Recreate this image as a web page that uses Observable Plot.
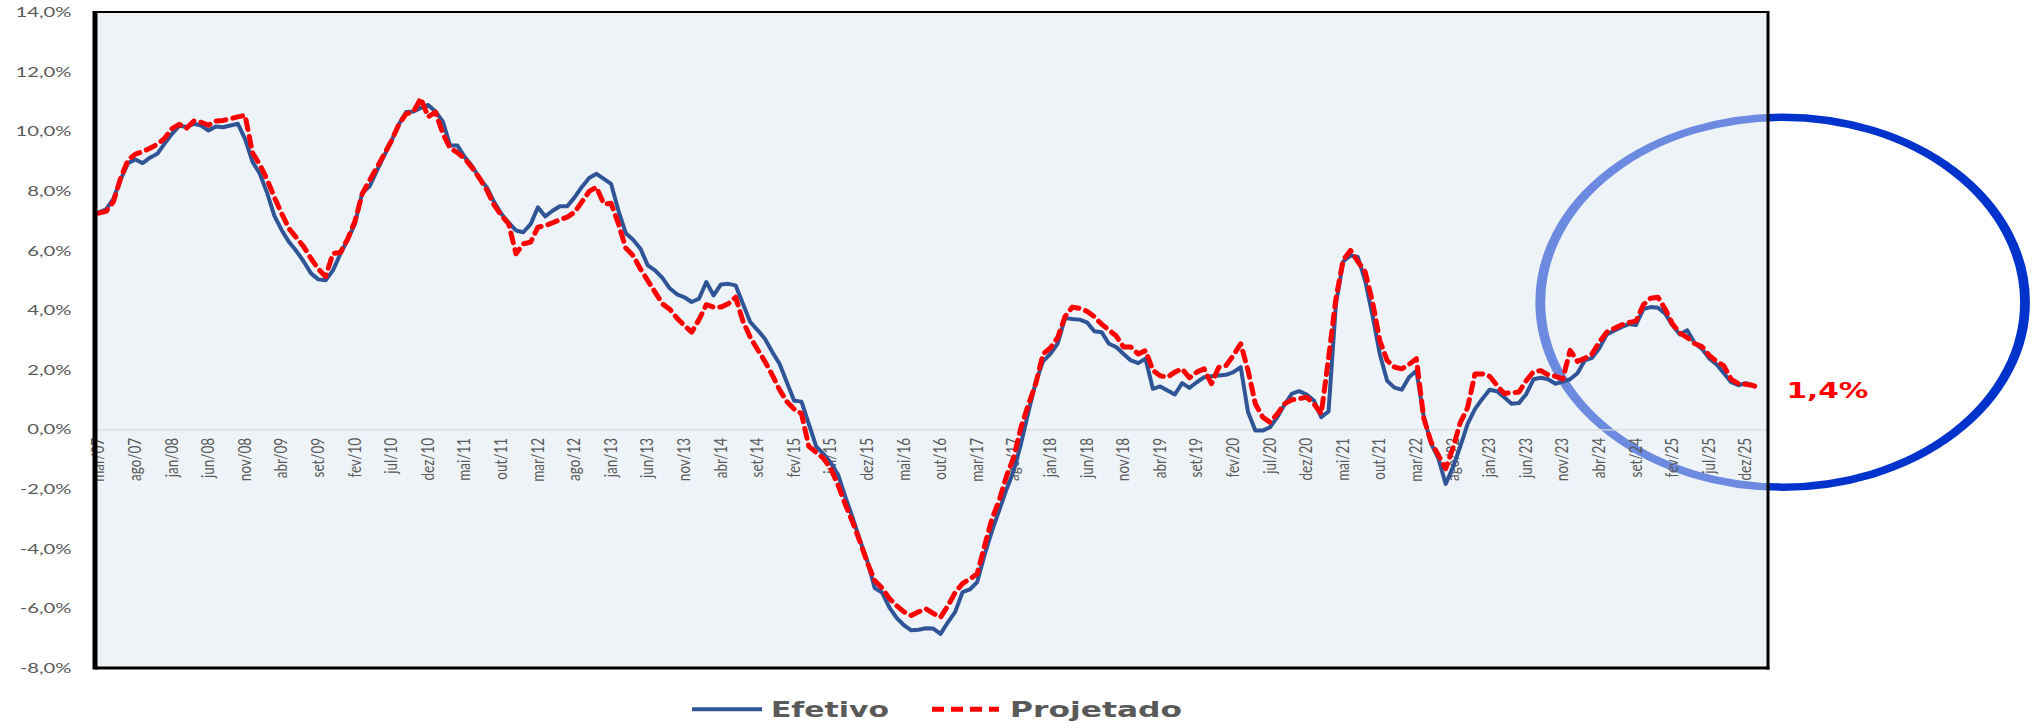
<!DOCTYPE html>
<html>
<head>
<meta charset="utf-8">
<script src="https://cdn.jsdelivr.net/npm/d3@7"></script>
<script src="https://cdn.jsdelivr.net/npm/@observablehq/plot@0.6"></script>
<style>
  html, body { margin: 0; padding: 0; background: #ffffff; }
  #chart svg { display: block; }
  #legend { display: block; }
</style>
</head>
<body>
<div id="chart"></div>
<svg id="legend" width="2039" height="32"></svg>
<script>
// ---------- DATA (monthly, mar/07 onward) ----------
const seriesNames = ["Efetivo", "Projetado"];

const efetivo = [
  7.30, 7.40, 7.75, 8.40, 8.95, 9.07, 8.95, 9.13, 9.26, 9.60,
  9.93, 10.20, 10.16, 10.27, 10.21, 10.04, 10.18, 10.15, 10.21, 10.27,
  9.75, 9.00, 8.60, 7.95, 7.18, 6.70, 6.30, 6.00, 5.65, 5.25,
  5.05, 5.02, 5.35, 5.90, 6.38, 6.91, 7.95, 8.17, 8.70, 9.20,
  9.70, 10.25, 10.66, 10.68, 10.80, 10.90, 10.68, 10.35, 9.54, 9.54,
  9.15, 8.85, 8.45, 8.14, 7.65, 7.25, 6.95, 6.69, 6.63, 6.90,
  7.47, 7.16, 7.35, 7.50, 7.50, 7.80, 8.15, 8.45, 8.59, 8.42,
  8.25, 7.35, 6.60, 6.38, 6.08, 5.52, 5.35, 5.10, 4.75, 4.55,
  4.45, 4.29, 4.40, 4.96, 4.51, 4.88, 4.90, 4.85, 4.23, 3.62,
  3.35, 3.06, 2.62, 2.22, 1.60, 0.98, 0.95, 0.20, -0.55, -0.80,
  -1.10, -1.50, -2.25, -2.95, -3.70, -4.40, -5.30, -5.45, -5.95, -6.30,
  -6.55, -6.72, -6.70, -6.65, -6.66, -6.84, -6.45, -6.10, -5.44, -5.35,
  -5.10, -4.20, -3.40, -2.70, -2.00, -1.36, -0.45, 0.60, 1.60, 2.30,
  2.55, 2.90, 3.75, 3.72, 3.70, 3.61, 3.31, 3.28, 2.89, 2.78,
  2.55, 2.33, 2.24, 2.39, 1.38, 1.46, 1.32, 1.19, 1.57, 1.41,
  1.60, 1.77, 1.80, 1.83, 1.85, 1.94, 2.11, 0.60, -0.02, -0.02,
  0.09, 0.43, 0.85, 1.22, 1.30, 1.19, 0.99, 0.43, 0.62, 4.20,
  5.65, 5.85, 5.80, 5.01, 3.85, 2.55, 1.65, 1.42, 1.35, 1.77,
  1.99, 0.45, -0.45, -0.95, -1.81, -1.25, -0.55, 0.20, 0.70, 1.04,
  1.35, 1.30, 1.10, 0.88, 0.90, 1.20, 1.70, 1.75, 1.70, 1.55,
  1.62, 1.70, 1.90, 2.33, 2.42, 2.75, 3.20, 3.33, 3.45, 3.55,
  3.52, 4.05, 4.12, 4.10, 3.90, 3.50, 3.20, 3.34, 2.92, 2.72,
  2.40, 2.20, 1.90, 1.60, 1.50, 1.57, 1.49
];

const projetado = [
  7.27, 7.33, 7.65, 8.45, 9.05, 9.25, 9.33, 9.45, 9.58, 9.78,
  10.10, 10.25, 10.12, 10.36, 10.32, 10.22, 10.36, 10.38, 10.44, 10.50,
  10.55, 9.30, 8.90, 8.40, 7.80, 7.25, 6.75, 6.45, 6.15, 5.75,
  5.40, 5.15, 5.92, 5.95, 6.40, 7.00, 7.92, 8.37, 8.80, 9.25,
  9.70, 10.25, 10.60, 10.68, 11.12, 10.50, 10.66, 9.95, 9.45, 9.30,
  9.10, 8.80, 8.45, 8.05, 7.55, 7.20, 6.91, 5.91, 6.24, 6.30,
  6.80, 6.85, 6.95, 7.05, 7.14, 7.30, 7.65, 8.00, 8.14, 7.58,
  7.60, 6.91, 6.10, 5.85, 5.40, 5.01, 4.62, 4.23, 4.05, 3.75,
  3.50, 3.28, 3.70, 4.20, 4.12, 4.12, 4.23, 4.45, 3.65, 3.11,
  2.70, 2.30, 1.85, 1.35, 0.95, 0.70, 0.55, -0.55, -0.75, -0.95,
  -1.30, -1.85, -2.50, -3.10, -3.75, -4.45, -5.05, -5.30, -5.65, -5.89,
  -6.10, -6.22, -6.10, -6.00, -6.15, -6.28, -5.90, -5.45, -5.15, -5.00,
  -4.82, -3.90, -3.00, -2.37, -1.55, -0.91, 0.10, 0.85, 1.55, 2.55,
  2.75, 3.10, 3.80, 4.12, 4.08, 3.98, 3.80, 3.55, 3.35, 3.15,
  2.78, 2.78, 2.55, 2.66, 2.00, 1.82, 1.77, 1.94, 2.05, 1.75,
  1.94, 2.05, 1.55, 2.10, 2.16, 2.50, 2.89, 2.00, 0.88, 0.43,
  0.26, 0.54, 0.88, 1.01, 1.05, 1.10, 0.88, 0.54, 2.40, 4.40,
  5.70, 6.02, 5.65, 5.30, 4.30, 3.00, 2.33, 2.11, 2.05, 2.20,
  2.39, 0.40, -0.40, -0.85, -1.30, -0.60, 0.25, 0.75, 1.88, 1.88,
  1.80, 1.50, 1.22, 1.25, 1.27, 1.65, 1.95, 1.99, 1.85, 1.80,
  1.71, 2.67, 2.30, 2.40, 2.55, 2.95, 3.28, 3.40, 3.52, 3.60,
  3.65, 4.20, 4.42, 4.45, 4.05, 3.55, 3.25, 3.10, 2.90, 2.80,
  2.50, 2.30, 2.15, 1.70, 1.55, 1.53, 1.49, 1.40
];

// category labels shown every 5 months, starting at the first month
const xTickLabels = [
  "mar/07","ago/07","jan/08","jun/08","nov/08","abr/09","set/09","fev/10","jul/10","dez/10",
  "mai/11","out/11","mar/12","ago/12","jan/13","jun/13","nov/13","abr/14","set/14","fev/15",
  "jul/15","dez/15","mai/16","out/16","mar/17","ago/17","jan/18","jun/18","nov/18","abr/19",
  "set/19","fev/20","jul/20","dez/20","mai/21","out/21","mar/22","ago/22","jan/23","jun/23",
  "nov/23","abr/24","set/24","fev/25","jul/25","dez/25"
];
const xTickStep = 5;
const yTicks = [-8, -6, -4, -2, 0, 2, 4, 6, 8, 10, 12, 14];
const lastLabel = "1,4%";
// highlight ellipse annotation (data coords of centre, radii in px)
const highlight = { x: 230.1, y: 4.27, r: 185, stretch: 1.31 };

// ---------- build tables ----------
const efData = efetivo.map((v, i) => ({ i, v }));
const prData = projetado.map((v, i) => ({ i, v }));
const tickData = xTickLabels.map((t, k) => ({ i: k * xTickStep, t }));
const fmtPct = d => d.toFixed(1).replace(".", ",") + "%";

const BLUE = "#2F5597", RED = "#FF0000", GREY = "#595959", BG = "#EEF3F8";
const FONT = "Lato, 'DejaVu Sans', sans-serif";

function highlightMark(index, scales, values, dims) {
  const { width, height, marginLeft, marginRight, marginTop, marginBottom } = dims;
  const cx = scales.x(highlight.x), cy = scales.y(highlight.y);
  const g = d3.create("svg:g");
  g.append("circle")
    .attr("transform", `translate(${cx},${cy}) scale(${highlight.stretch},1)`)
    .attr("r", highlight.r)
    .attr("fill", "none")
    .attr("stroke", "#0033CC")
    .attr("stroke-width", 7.5);
  g.append("rect")
    .attr("x", marginLeft).attr("y", marginTop)
    .attr("width", width - marginLeft - marginRight)
    .attr("height", height - marginTop - marginBottom)
    .attr("fill", BG).attr("fill-opacity", 0.45);
  return g.node();
}

function bordersMark(index, scales, values, dims) {
  const { width, height, marginLeft, marginRight, marginTop, marginBottom } = dims;
  const l = marginLeft, r = width - marginRight, t = marginTop, b = height - marginBottom;
  const g = d3.create("svg:g").attr("stroke", "#000").attr("fill", "none");
  g.append("line").attr("x1", l).attr("x2", r).attr("y1", t).attr("y2", t).attr("stroke-width", 2.2);
  g.append("line").attr("x1", r).attr("x2", r).attr("y1", t - 1).attr("y2", b + 1.5).attr("stroke-width", 3);
  g.append("line").attr("x1", l).attr("x2", r + 1.5).attr("y1", b).attr("y2", b).attr("stroke-width", 3.2);
  g.append("line").attr("x1", l).attr("x2", l).attr("y1", t - 1).attr("y2", b + 1.6).attr("stroke-width", 5);
  return g.node();
}

const plot = Plot.plot({
  width: 2039,
  height: 690,
  marginLeft: 95,
  marginRight: 271,
  marginTop: 12,
  marginBottom: 22,
  x: { domain: [-0.44, 228.1], axis: null },
  y: { domain: [yTicks[0], yTicks[yTicks.length - 1]], axis: null },
  style: { background: "#ffffff", overflow: "visible", fontFamily: FONT },
  marks: [
    Plot.frame({ fill: BG, stroke: null }),
    highlightMark,
    Plot.ruleY([0], { stroke: "#D9D9D9", strokeWidth: 1.2 }),
    Plot.text(tickData, {
      x: "i", y: 0, text: "t", rotate: -90, textAnchor: "end", dy: 8,
      fill: GREY, fontSize: 13.5, fontFamily: FONT
    }),
    Plot.text(yTicks, {
      y: d => d, text: d => fmtPct(d), frameAnchor: "left", dx: -24, textAnchor: "end",
      fill: GREY, fontSize: 14, fontFamily: FONT
    }),
    Plot.line(efData, {
      x: "i", y: "v", stroke: BLUE, strokeWidth: 4,
      strokeLinejoin: "round", strokeLinecap: "round"
    }),
    Plot.line(prData, {
      x: "i", y: "v", stroke: RED, strokeWidth: 5,
      strokeDasharray: "10,7", strokeLinejoin: "round"
    }),
    Plot.text(prData, Plot.selectLast({
      x: "i", y: "v", text: () => lastLabel, dx: 26, dy: 3, textAnchor: "start",
      fill: RED, fontWeight: "bold", fontSize: 21, fontFamily: "'DejaVu Sans', sans-serif"
    })),
    bordersMark
  ]
});

document.getElementById("chart").appendChild(plot);

// Widen glyphs to match the horizontally stretched reference
const textGroups = plot.querySelectorAll('g[aria-label="text"]');
if (textGroups.length >= 3) {
  // x tick labels (rotated): widen glyph height on screen
  textGroups[0].querySelectorAll("text").forEach(t => {
    const tr = t.getAttribute("transform") || "";
    t.setAttribute("transform", tr + " scale(1,1.3)");
  });
  // y tick labels
  const ytexts = Array.from(textGroups[1].querySelectorAll("text"));
  const ref = ytexts.find(t => t.textContent === "14,0%") || ytexts[ytexts.length - 1];
  const k = 56 / ref.getComputedTextLength();
  ytexts.forEach(t => {
    t.setAttribute("textLength", (t.getComputedTextLength() * k).toFixed(1));
    t.setAttribute("lengthAdjust", "spacingAndGlyphs");
  });
  // end label
  textGroups[2].querySelectorAll("text").forEach(t => {
    t.setAttribute("textLength", 82);
    t.setAttribute("lengthAdjust", "spacingAndGlyphs");
  });
}

// ---------- legend (below the chart) ----------
const lg = d3.select("#legend");
const lineY = 19.3, baseY = 26.7;
const legendItems = [
  { name: seriesNames[0], color: BLUE, dash: null, width: 4, x0: 692, x1: 762, tx: 771, tl: 118 },
  { name: seriesNames[1], color: RED, dash: "12,7", width: 5, x0: 932, x1: 999, tx: 1010, tl: 172 }
];
legendItems.forEach(it => {
  const ln = lg.append("line")
    .attr("x1", it.x0).attr("x2", it.x1).attr("y1", lineY).attr("y2", lineY)
    .attr("stroke", it.color).attr("stroke-width", it.width);
  if (it.dash) ln.attr("stroke-dasharray", it.dash);
  lg.append("text")
    .attr("x", it.tx).attr("y", baseY)
    .attr("fill", GREY)
    .attr("font-family", "'DejaVu Sans', sans-serif")
    .attr("font-weight", "bold")
    .attr("font-size", 22)
    .attr("textLength", it.tl)
    .attr("lengthAdjust", "spacingAndGlyphs")
    .text(it.name);
});
</script>
</body>
</html>
